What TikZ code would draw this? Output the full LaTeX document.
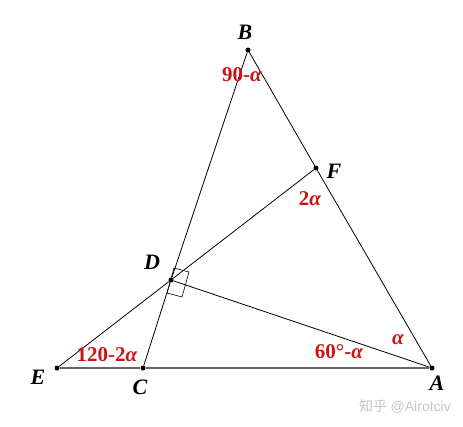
\documentclass[tikz,border=0pt]{standalone}
\usepackage{fontspec}
\setmainfont{Liberation Serif}
\newfontfamily\cjkf{Noto Sans CJK SC}
\newfontfamily\wmf{Liberation Sans}
\definecolor{lblred}{RGB}{204,20,20}
\newcommand{\alf}{\textit{α}}
\tikzset{
  pt/.style={circle,fill=black,inner sep=0pt,minimum size=5pt},
  vlab/.style={font=\fontsize{22}{22}\selectfont\bfseries\itshape},
  alab/.style={font=\fontsize{21}{21}\selectfont\bfseries,text=lblred},
  seg/.style={black,line width=0.8pt}
}
\begin{document}
\begin{tikzpicture}[x=1pt,y=-1pt]
\useasboundingbox[fill=white] (0,0) rectangle (463,426);
\node[pt] (B) at (248,50) {};
\node[pt] (F) at (316,168) {};
\node[pt] (A) at (432,368) {};
\node[pt] (C) at (143,368) {};
\node[pt] (E) at (57,368) {};
\node[pt] (D) at (171,280) {};
\draw[seg] (B) -- (F) -- (A);
\draw[seg] (B) -- (D) -- (C);
\draw[seg] (E) -- (D) -- (F);
\draw[seg] (D) -- (A);
\draw[gray!80!black,line width=1.1pt] (E) -- (C) -- (A);
\draw[black,line width=0.6pt] (174,268) -- (189,272) -- (182,297) -- (167,293) -- cycle;
\node[vlab] (lB) at (245,32) {B};
\node[vlab] (lF) at (334,171) {F};
\node[vlab] (lD) at (152,262) {D};
\node[vlab] (lE) at (38,377) {E};
\node[vlab] (lC) at (140,387) {C};
\node[vlab] (lA) at (437,383) {A};
\node[alab] (a1) at (242,75) {90-\alf};
\node[alab] (a2) at (310,199) {2\alf};
\node[alab] (a3) at (107,355) {120-2\alf};
\node[alab] (a4) at (339,352) {60°-\alf};
\node[alab] (a5) at (398,340) {\alf};
\node[text=gray!45,font=\fontsize{14}{14}\selectfont] (wm) at (405,407) {{\cjkf 知乎} {\wmf @Airotciv}};
\end{tikzpicture}
\end{document}
